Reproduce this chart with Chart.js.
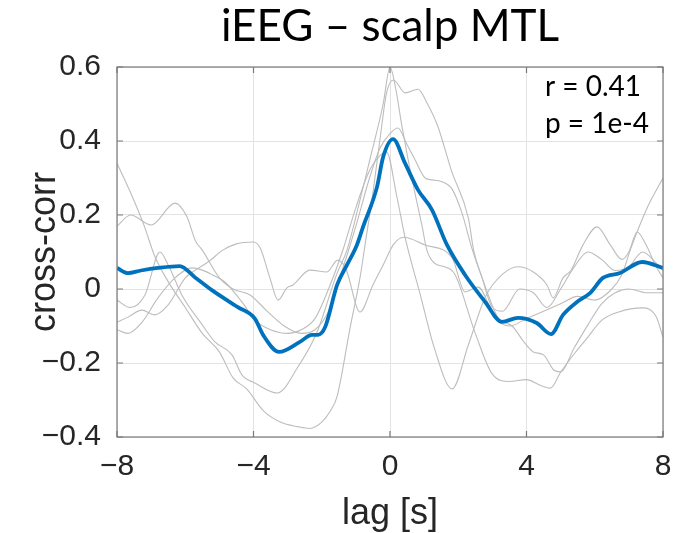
<!DOCTYPE html>
<html>
<head>
<meta charset="utf-8">
<script src="https://cdn.jsdelivr.net/npm/chart.js@4.4.1/dist/chart.umd.min.js"></script>
<style>
  html, body { margin: 0; padding: 0; background: #fff; }
  #wrap { width: 692px; height: 533px; }
</style>
</head>
<body>
<div id="wrap"><canvas id="xcorr-chart" width="692" height="533"></canvas></div>
<script>
const lagTicks = [-8, -4, 0, 4, 8];
const corrTicks = [-0.4, -0.2, 0, 0.2, 0.4, 0.6];
const statLines = ['r = 0.41', 'p = 1e-4'];

// [lag (s), cross-correlation] for the mean over pairs
const meanCorr = [
    [-8, 0.057], [-7.68, 0.043], [-7.3, 0.05], [-6.8, 0.057], [-6.16, 0.062], [-5.72, 0.032],
    [-5.22, -0.003], [-4.46, -0.049], [-3.96, -0.08], [-3.72, -0.124], [-3.25, -0.17],
    [-2.64, -0.143], [-2.29, -0.124], [-2.11, -0.124], [-1.9, -0.103], [-1.55, 0.011],
    [-1.26, 0.065], [-0.97, 0.119], [-0.79, 0.168], [-0.38, 0.276], [-0.2, 0.357],
    [0.09, 0.405], [0.44, 0.34], [0.82, 0.268], [1.23, 0.214], [1.67, 0.119], [2.2, 0.038],
    [2.79, -0.035], [3.28, -0.089], [3.75, -0.078], [4.3, -0.092], [4.72, -0.122],
    [5.07, -0.07], [5.48, -0.035], [5.86, -0.011], [6.24, 0.03], [6.74, 0.043],
    [7.39, 0.073], [8, 0.057]
];

// individual pairs
const pairA = [
    [-8, 0.34], [-7.6, 0.26], [-7.2, 0.17], [-6.9, 0.09], [-6.5, 0.02], [-6, -0.05],
    [-5.5, -0.12], [-5.0, -0.17], [-4.6, -0.24], [-4.2, -0.27], [-3.7, -0.33], [-3.2, -0.36],
    [-2.7, -0.372], [-2.35, -0.377], [-2.0, -0.36], [-1.75, -0.33], [-1.55, -0.29],
    [-1.17, -0.105], [-0.88, 0.03], [-0.73, 0.12], [-0.5, 0.26], [-0.3, 0.4], [-0.1, 0.53],
    [0.1, 0.565], [0.45, 0.53], [0.82, 0.54], [1.1, 0.5], [1.4, 0.44], [1.8, 0.32],
    [2.3, 0.19], [2.45, 0.105], [2.7, 0.03], [3.0, -0.05], [3.3, -0.06], [3.8, 0.0],
    [4.2, -0.01], [4.6, -0.05], [5.0, 0.0], [5.4, 0.06], [5.8, 0.1], [6.2, 0.08],
    [6.6, 0.05], [7.0, 0.06], [7.4, 0.1], [7.8, 0.07], [8, 0.05]
];
const pairB = [
    [-8, 0.17], [-7.6, 0.2], [-7.0, 0.173], [-6.3, 0.232], [-5.95, 0.195], [-5.7, 0.13],
    [-5.5, 0.105], [-5.0, 0.03], [-4.6, 0.0], [-4.1, -0.016], [-3.6, -0.06], [-3.1, -0.1],
    [-2.6, -0.12], [-2.2, -0.11], [-1.8, -0.06], [-1.4, 0.05], [-1.0, 0.17], [-0.6, 0.3],
    [-0.3, 0.38], [0.0, 0.42], [0.23, 0.435], [0.5, 0.39], [0.73, 0.35], [1.03, 0.3],
    [1.23, 0.295], [1.52, 0.29], [1.82, 0.27], [2.11, 0.205], [2.4, 0.11], [2.7, 0.03],
    [3.17, -0.078], [3.58, -0.1], [3.9, -0.14], [4.2, -0.17], [4.5, -0.178], [4.8, -0.219],
    [5.0, -0.224], [5.4, -0.159], [5.8, -0.097], [6.2, -0.04], [6.6, -0.01], [7.0, 0.0],
    [7.5, -0.01], [8, -0.01]
];
const pairC = [
    [-8, -0.03], [-7.62, -0.05], [-7.18, -0.016], [-6.74, 0.1], [-6.5, 0.065], [-6.1, -0.016],
    [-5.5, -0.097], [-5.13, -0.143], [-4.63, -0.178], [-4.34, -0.232], [-3.96, -0.254],
    [-3.3, -0.281], [-2.7, -0.211], [-2.15, -0.119], [-1.55, 0.043], [-1.26, 0.105],
    [-0.88, 0.24], [-0.59, 0.35], [-0.2, 0.5], [0, 0.6], [0.15, 0.55], [0.35, 0.44],
    [0.53, 0.35], [0.73, 0.26], [0.94, 0.17], [1.08, 0.105], [1.3, 0.07], [1.6, 0.06],
    [1.9, 0.04], [2.5, -0.12], [3.0, -0.23], [3.5, -0.25], [4.0, -0.245], [4.4, -0.26],
    [4.7, -0.268], [5.0, -0.225], [5.4, -0.175], [5.8, -0.13], [6.2, -0.085], [6.7, -0.062],
    [7.4, -0.051], [7.8, -0.075], [8, -0.13]
];
const pairD = [
    [-8, -0.11], [-7.68, -0.12], [-7.27, -0.09], [-6.8, -0.024], [-6.3, 0.03], [-5.8, 0.057],
    [-5.5, 0.051], [-5.2, 0.038], [-4.84, 0.019], [-4.34, -0.035], [-3.96, -0.084],
    [-3.5, -0.11], [-3.0, -0.12], [-2.6, -0.11], [-2.2, -0.08], [-1.8, 0.0], [-1.4, 0.1],
    [-1.0, 0.22], [-0.6, 0.32], [-0.3, 0.36], [-0.1, 0.37], [0.2, 0.25], [0.44, 0.14],
    [0.9, -0.02], [1.3, -0.16], [1.82, -0.27], [2.3, -0.15], [2.8, -0.02], [3.3, 0.04],
    [3.75, 0.06], [4.2, 0.046], [4.6, 0.011], [4.78, -0.024], [5.07, 0.03], [5.3, 0.05],
    [5.66, 0.12], [6.07, 0.168], [6.45, 0.12], [6.8, 0.08], [7.0, 0.1], [7.24, 0.154],
    [7.5, 0.12], [7.8, 0.06], [8, 0.03]
];
const pairE = [
    [-8, -0.09], [-7.68, -0.076], [-7.27, -0.057], [-6.9, -0.07], [-6.5, -0.043], [-6.0, 0.03],
    [-5.7, 0.051], [-5.3, 0.075], [-4.9, 0.105], [-4.5, 0.122], [-4.0, 0.127], [-3.8, 0.11],
    [-3.52, 0.03], [-3.28, -0.03], [-3.02, 0.003], [-2.84, 0.011], [-2.35, 0.051],
    [-1.85, 0.046], [-1.53, 0.078], [-1.26, 0.046], [-0.97, -0.051], [-0.88, -0.062],
    [-0.5, 0.011], [-0.2, 0.065], [0.1, 0.12], [0.4, 0.14], [1.03, 0.119], [1.82, 0.084],
    [2.2, -0.008], [2.58, 0.005], [3.08, -0.078], [3.5, -0.1], [4.0, -0.08], [4.5, -0.06],
    [5.0, -0.04], [5.5, -0.02], [6.0, -0.03], [6.5, 0.0], [6.8, 0.04], [7.04, 0.105],
    [7.54, 0.22], [8, 0.3]
];

const pairs = [pairA, pairB, pairC, pairD, pairE];

const toPoints = (arr) => arr.map(([x, y]) => ({ x, y }));
// tick text with a typographic minus
const fmtTick = (v, digits) => {
    if (v === 0) return '0';
    const s = Math.abs(v).toFixed(digits);
    return v < 0 ? '\u2212' + s : s;
};

const boxColor = '#7a7a7a';
const tickLen = 6;
const axisFont = "'Liberation Sans', Arial, sans-serif";

// MATLAB-style box with inward ticks on all four sides, plus the stats text
const axesBox = {
    id: 'axesBox',
    afterDatasetsDraw(chart) {
        const { ctx, chartArea: a, scales } = chart;
        ctx.save();
        ctx.strokeStyle = boxColor;
        ctx.lineWidth = 1.2;
        ctx.strokeRect(a.left, a.top, a.right - a.left, a.bottom - a.top);
        ctx.beginPath();
        lagTicks.forEach(t => {
            const px = scales.x.getPixelForValue(t);
            ctx.moveTo(px, a.bottom); ctx.lineTo(px, a.bottom - tickLen);
            ctx.moveTo(px, a.top); ctx.lineTo(px, a.top + tickLen);
        });
        corrTicks.forEach(t => {
            const py = scales.y.getPixelForValue(t);
            ctx.moveTo(a.left, py); ctx.lineTo(a.left + tickLen, py);
            ctx.moveTo(a.right, py); ctx.lineTo(a.right - tickLen, py);
        });
        ctx.stroke();

        ctx.fillStyle = '#000';
        ctx.font = "28px Lato, 'Open Sans', sans-serif";
        ctx.textBaseline = 'alphabetic';
        ctx.textAlign = 'left';
        statLines.forEach((s, i) => ctx.fillText(s, 545, 96 + i * 37));
        ctx.restore();
    }
};

const datasets = pairs.map((p, i) => ({
    label: 'pair ' + (i + 1),
    data: toPoints(p),
    borderColor: '#bdbdbd',
    borderWidth: 1.1,
    pointRadius: 0,
    cubicInterpolationMode: 'monotone',
    order: 1
}));
datasets.push({
    label: 'mean',
    data: toPoints(meanCorr),
    borderColor: '#0072BD',
    borderWidth: 3.8,
    pointRadius: 0,
    cubicInterpolationMode: 'monotone',
    order: 0
});

new Chart(document.getElementById('xcorr-chart'), {
    type: 'line',
    data: { datasets },
    options: {
        responsive: false,
        animation: false,
        layout: { padding: { left: 0, right: 29, top: 0, bottom: 0 } },
        plugins: {
            legend: { display: false },
            tooltip: { enabled: false },
            title: {
                display: true,
                fullSize: false,
                text: 'iEEG \u2013 scalp MTL',
                color: '#000',
                font: { family: "Lato, 'Open Sans', sans-serif", size: 44, weight: 'normal', lineHeight: 1.2 },
                padding: { top: 0, bottom: 14.2 }
            }
        },
        scales: {
            x: {
                type: 'linear',
                min: -8,
                max: 8,
                afterBuildTicks: (s) => { s.ticks = lagTicks.map(v => ({ value: v })); },
                afterFit: (s) => { s.height = 96; },
                grid: { color: '#e3e3e3', drawTicks: false },
                border: { display: false },
                ticks: {
                    color: '#262626',
                    padding: 12,
                    maxRotation: 0,
                    font: { family: axisFont, size: 30 },
                    callback: (v) => fmtTick(v, 0)
                },
                title: {
                    display: true,
                    text: 'lag [s]',
                    color: '#262626',
                    font: { family: axisFont, size: 36 },
                    padding: { top: 0, bottom: -3 }
                }
            },
            y: {
                min: -0.4,
                max: 0.6,
                afterBuildTicks: (s) => { s.ticks = corrTicks.map(v => ({ value: v })); },
                afterFit: (s) => { s.width = 117; },
                grid: { color: '#e3e3e3', drawTicks: false },
                border: { display: false },
                ticks: {
                    color: '#262626',
                    padding: 16,
                    font: { family: axisFont, size: 30 },
                    callback: (v) => fmtTick(v, 1)
                },
                title: {
                    display: true,
                    text: 'cross-corr',
                    color: '#262626',
                    font: { family: axisFont, size: 36 },
                    padding: { top: 23, bottom: 0 }
                }
            }
        }
    },
    plugins: [axesBox]
});
</script>
</body>
</html>
